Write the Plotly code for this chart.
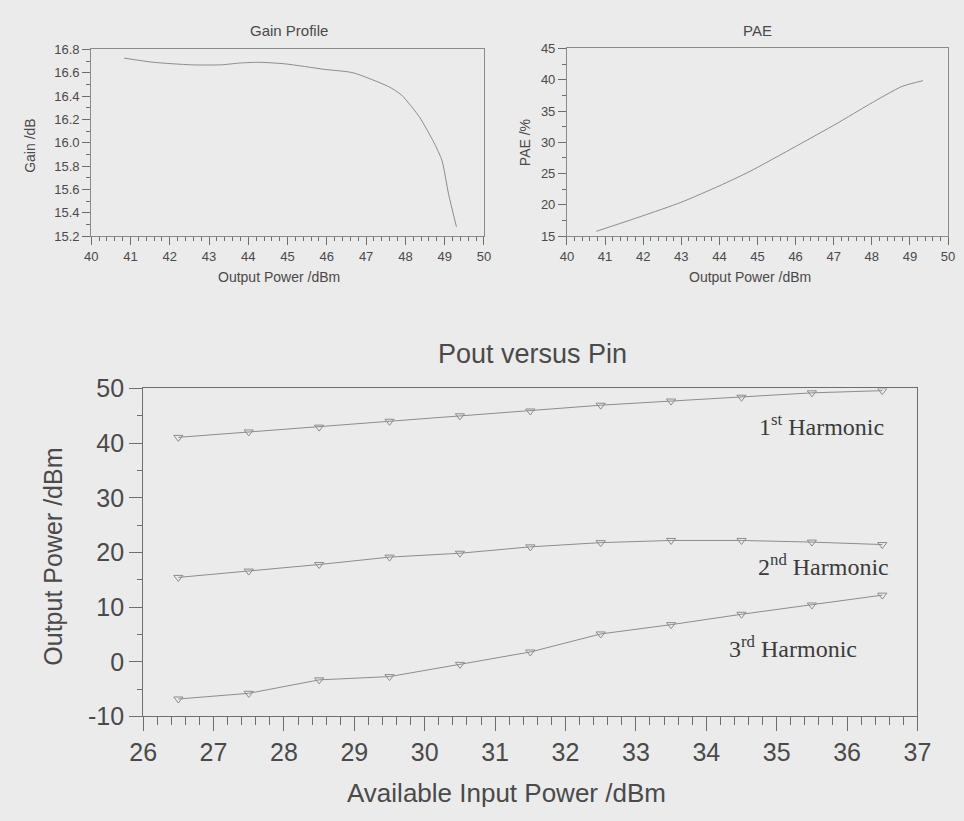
import plotly.graph_objects as go

# ---- Gain profile: gain vs output power ----
gain_pout = [40.84, 41.58, 42.56, 43.3, 43.8, 44.29, 44.95, 45.93, 46.67,
             47.58, 47.9, 48.36, 48.73, 48.93, 49.1, 49.3]
gain_db = [16.726, 16.69, 16.668, 16.668, 16.684, 16.69, 16.676, 16.63, 16.6,
           16.48, 16.41, 16.22, 16.0, 15.85, 15.56, 15.28]

# ---- PAE vs output power ----
pae_pout = [40.77, 41.96, 42.99, 44.01, 44.78, 46.02, 47.08, 47.94, 48.79, 49.34]
pae_pct = [15.77, 18.19, 20.4, 23.07, 25.29, 29.4, 33.0, 36.1, 38.93, 39.85]

# ---- Harmonic output power vs available input power ----
pin_dbm = [26.5, 27.5, 28.5, 29.5, 30.5, 31.5, 32.5, 33.5, 34.5, 35.5, 36.5]
h1_dbm = [41.06, 42.05, 42.93, 44.0, 45.0, 45.88, 46.94, 47.7, 48.4, 49.2, 49.6]
h2_dbm = [15.44, 16.6, 17.8, 19.15, 19.86, 21.03, 21.8, 22.2, 22.2, 21.9, 21.45]
h3_dbm = [-6.8, -5.76, -3.3, -2.7, -0.46, 1.8, 5.1, 6.8, 8.7, 10.4, 12.2]

pout_tick_vals = [-10, 0, 10, 20, 30, 40, 50]
pout_tick_text = ["-10", "0", "10", "20", "30", "40", "50"]

harmonic_labels = ["1<sup>st</sup> Harmonic", "2<sup>nd</sup> Harmonic", "3<sup>rd</sup> Harmonic"]
harmonic_label_x = [36.56, 36.63, 36.17]
harmonic_label_y = [43.4, 17.8, 2.7]

W, H = 964, 821
BG = "#ebebeb"
LINE = "#8c8c8c"
AXIS = "#6e6e6e"
TXT = "#4a4a4a"
SANS = "Liberation Sans, Arial, sans-serif"
SERIF = "Liberation Serif, Times New Roman, serif"


def px_x(p):
    return p / W


def px_y(p):
    return 1 - p / H


fig = go.Figure()

fig.add_trace(go.Scatter(x=gain_pout, y=gain_db, mode="lines",
                         line=dict(color=LINE, width=1, shape="spline", smoothing=0.6),
                         xaxis="x", yaxis="y", showlegend=False))
fig.add_trace(go.Scatter(x=pae_pout, y=pae_pct, mode="lines",
                         line=dict(color=LINE, width=1, shape="spline", smoothing=0.6),
                         xaxis="x2", yaxis="y2", showlegend=False))
for ys in (h1_dbm, h2_dbm, h3_dbm):
    fig.add_trace(go.Scatter(x=pin_dbm, y=ys, mode="lines+markers",
                             line=dict(color=LINE, width=1),
                             marker=dict(symbol="triangle-down-open", size=8,
                                         color=LINE, line=dict(width=1, color=LINE)),
                             xaxis="x3", yaxis="y3", showlegend=False))

small_tick = dict(family=SANS, size=13, color=TXT)
big_tick = dict(family=SANS, size=25, color=TXT)

top_axis = dict(showgrid=False, zeroline=False, showline=True, linecolor="#8a8a8a",
                linewidth=1, mirror=True, ticks="outside", ticklen=8, tickwidth=1,
                tickcolor=AXIS, tickfont=small_tick)

fig.update_layout(
    width=W, height=H,
    margin=dict(l=0, r=0, t=0, b=0),
    paper_bgcolor=BG, plot_bgcolor=BG,
    xaxis=dict(top_axis, domain=[px_x(79.5), px_x(484)], range=[40, 50], dtick=1,
               anchor="y",
               minor=dict(dtick=0.2, ticks="outside", ticklen=4, tickcolor=AXIS)),
    yaxis=dict(top_axis, domain=[px_y(230), px_y(36.7)], range=[15.2, 16.8], dtick=0.2,
               tickformat=".1f", anchor="x",
               minor=dict(dtick=0.1, ticks="outside", ticklen=4, tickcolor=AXIS)),
    xaxis2=dict(top_axis, domain=[px_x(569.5), px_x(962)], range=[40, 50], dtick=1,
                anchor="y2",
                minor=dict(dtick=0.2, ticks="outside", ticklen=4, tickcolor=AXIS)),
    yaxis2=dict(top_axis, domain=[px_y(230), px_y(35.7)], range=[15, 45], dtick=5,
                anchor="x2",
                minor=dict(dtick=2.5, ticks="outside", ticklen=4, tickcolor=AXIS)),
    xaxis3=dict(showgrid=False, zeroline=False, showline=True, linecolor=AXIS,
                linewidth=1, mirror=True, ticks="outside", ticklen=14, tickwidth=1,
                tickcolor=AXIS, tickfont=big_tick, domain=[px_x(133), px_x(930.5)],
                range=[26, 37], dtick=1, anchor="y3",
                minor=dict(dtick=0.2, ticks="outside", ticklen=8, tickcolor=AXIS)),
    yaxis3=dict(showgrid=False, zeroline=False, showline=True, linecolor=AXIS,
                linewidth=1, mirror=True, ticks="outside", ticklen=13, tickwidth=1,
                tickcolor=AXIS, tickfont=big_tick, domain=[px_y(727.3), px_y(387.7)],
                range=[-10, 50], tickmode="array", tickvals=pout_tick_vals,
                ticktext=pout_tick_text, anchor="x3",
                minor=dict(dtick=5, ticks="outside", ticklen=5, tickcolor=AXIS)),
)

annotations = [
    dict(text="Gain Profile", x=px_x(283), y=px_y(17), size=15),
    dict(text="PAE", x=px_x(766), y=px_y(17), size=15),
    dict(text="Output Power /dBm", x=px_x(273), y=px_y(272), size=14),
    dict(text="Output Power /dBm", x=px_x(758), y=px_y(272), size=14),
    dict(text="Gain /dB", x=px_x(17), y=px_y(137), size=14, angle=-90),
    dict(text="PAE /%", x=px_x(527), y=px_y(133), size=14, angle=-90),
    dict(text="Pout versus Pin", x=px_x(534), y=px_y(352), size=27),
    dict(text="Available Input Power /dBm", x=px_x(507.5), y=px_y(806), size=26),
    dict(text="Output Power /dBm", x=px_x(40), y=px_y(562), size=25, angle=-90),
]
for a in annotations:
    fig.add_annotation(text=a["text"], x=a["x"], y=a["y"], xref="paper", yref="paper",
                       xanchor="center", yanchor="middle", showarrow=False,
                       textangle=a.get("angle", 0),
                       font=dict(family=SANS, size=a["size"], color=TXT))

for label, lx, ly in zip(harmonic_labels, harmonic_label_x, harmonic_label_y):
    fig.add_annotation(text=label, x=lx, y=ly, xref="x3", yref="y3",
                       xanchor="right", yanchor="middle", showarrow=False,
                       font=dict(family=SERIF, size=24, color="#3c3c3c"))

fig.write_html("out.html")
